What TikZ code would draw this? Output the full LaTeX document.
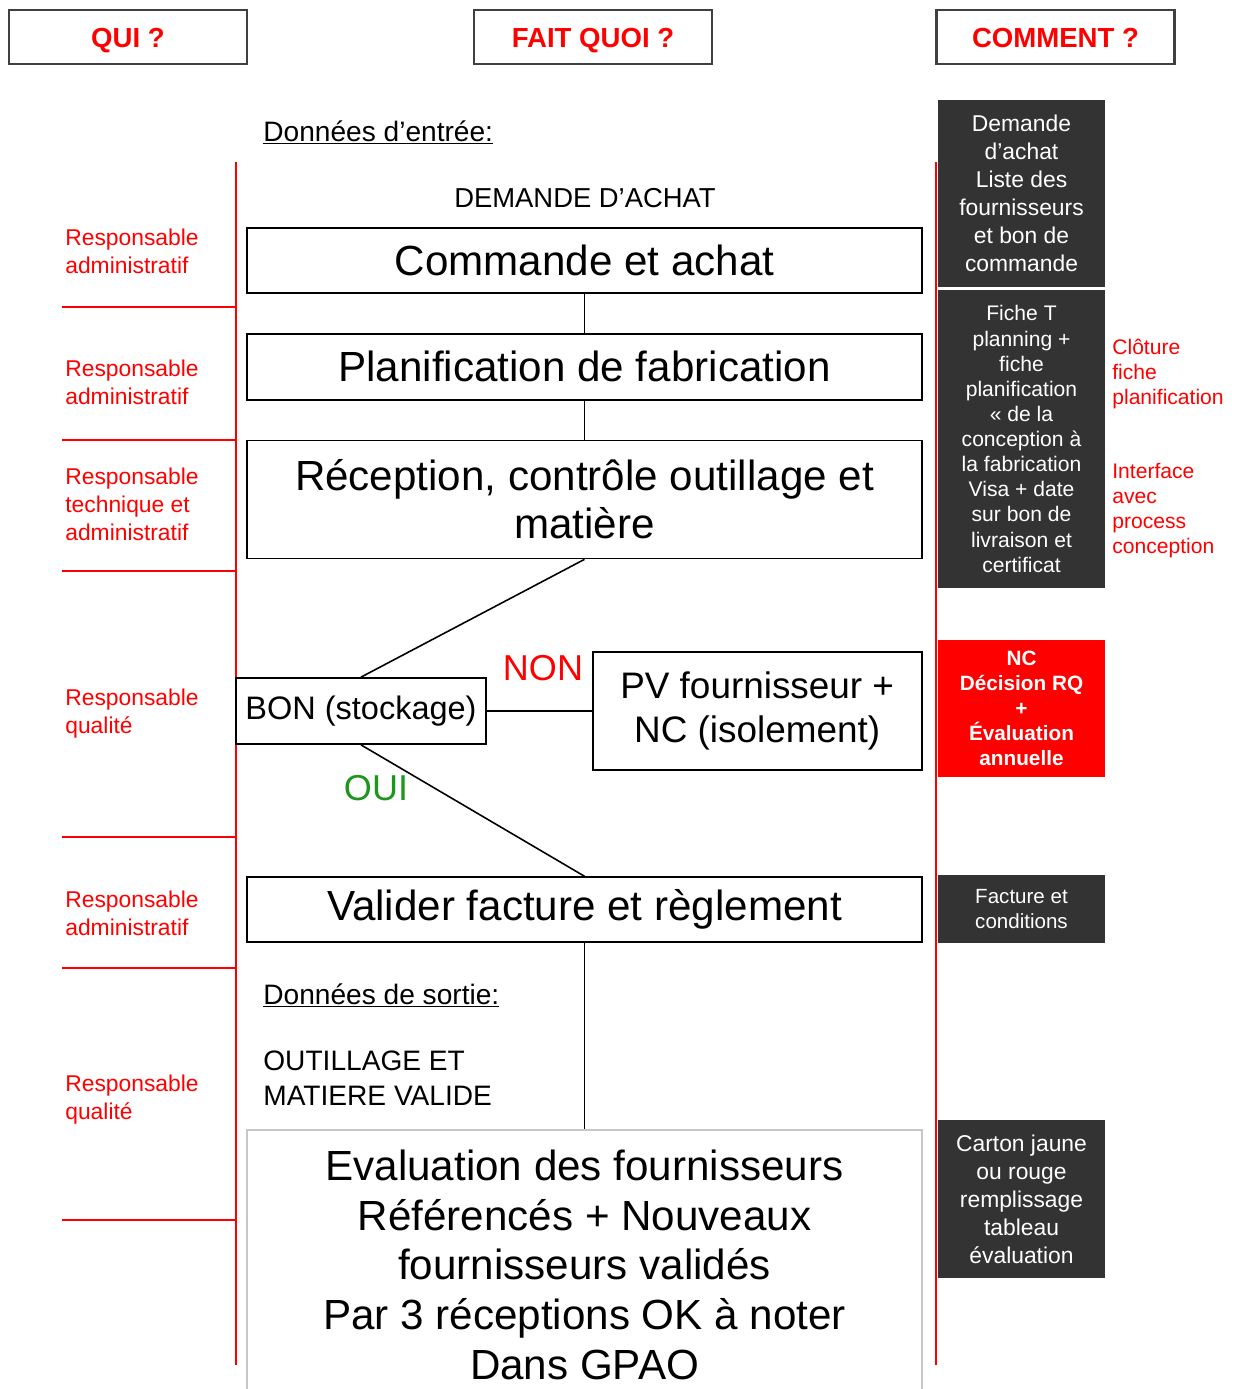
\documentclass[tikz,border=0pt]{standalone}
\usepackage{fontspec}
\setmainfont{Liberation Sans}
\usetikzlibrary{positioning}
\definecolor{howgray}{HTML}{333333}
\definecolor{okgreen}{RGB}{30,150,30}
\tikzset{%
  head/.style={draw=black!75, line width=1.2pt, minimum width=4.76cm, minimum height=1.08cm,
    text height=11.5pt, text depth=0pt, text=red,
    font=\bfseries\fontsize{15.7}{18}\selectfont}, % the three column titles
  proc/.style={draw, line width=1pt, minimum width=13.5cm, minimum height=1.3cm,
    align=center, inner sep=0pt, font=\fontsize{24}{28.3}\selectfont},
  how/.style={fill=howgray, text=white, minimum width=3.34cm, align=center, inner sep=0pt,
    font=\fontsize{13}{15.9}\selectfont},
  who/.style={text=red, align=left, anchor=west, inner sep=0pt, font=\fontsize{13}{15.9}\selectfont},
  note/.style={inner sep=0pt, font=\fontsize{16}{19.8}\selectfont},
  link/.style={draw, line width=0.9pt},
  lane/.style={draw=red, line width=1pt}
}

\begin{document}
\begin{tikzpicture}[x=0.02cm, y=-0.02cm, node distance=0.78cm]
\useasboundingbox (0,0) rectangle (1235,1389);

\node[head] (h0) at (128,37) {QUI ?};
\node[head] (h1) at (593,37) {FAIT QUOI ?};
\node[head] (h2) at (1055.5,37) {COMMENT ?};

% lanes
\draw[lane] (236,162) -- (236,1365);
\draw[lane] (936,162) -- (936,1365);
\foreach \y in {307,440,571,837,968,1220}
  \draw[lane] (62,\y) -- (236,\y);

\node[note, anchor=base west] (in0) at (263,141) {\underline{Données d’entrée:}};
\node[note, font=\fontsize{15.6}{19}\selectfont] (in1) at (585,198) {DEMANDE D’ACHAT};

\node[proc] (p0) at (584.5,260.5) {Commande et achat};
\node[proc, below=of p0, minimum height=1.32cm] (p1) {Planification de fabrication};
\node[proc, below=of p1, minimum height=2.36cm, font=\fontsize{24}{27.2}\selectfont] (p2) {Réception, contrôle outillage et\\matière};
\node[proc, minimum width=5cm, minimum height=1.32cm, font=\fontsize{18.5}{22}\selectfont] (bon) at (361,711) {BON (stockage)};
\node[proc, right=2.1cm of bon, minimum width=6.58cm, minimum height=2.36cm, font=\fontsize{21}{25.5}\selectfont] (pv) {PV fournisseur +\\NC (isolement)};
\node[proc, below=6.34cm of p2] (p3) {Valider facture et règlement};
\node[proc, below=3.72cm of p3, draw=black!22, minimum height=5.4cm] (p4) {Evaluation des fournisseurs\\Référencés + Nouveaux\\fournisseurs validés\\Par 3 réceptions OK à noter\\Dans GPAO};

\node[inner sep=0pt, text=red, font=\fontsize{20.5}{24}\selectfont] (non) at (543,668) {NON};
\node[inner sep=0pt, text=okgreen, font=\fontsize{20.5}{24}\selectfont] (oui) at (376,788) {OUI};

\draw[link] (p0) -- (p1);
\draw[link] (p1) -- (p2);
\draw[link] (p2.south) -- (bon.north);
\draw[link] (bon) -- (pv);
\draw[link] (bon.south) -- (p3.north);
\draw[link] (p3) -- (p4);

\node[note, anchor=base west] (out0) at (263,1004) {\underline{Données de sortie:}};
\node[note, align=left, anchor=west] (out1) at (263,1078) {OUTILLAGE ET\\MATIERE VALIDE};

% qui ?
\node[who] (q0) at (65,251.5) {Responsable\\administratif};
\node[who] (q1) at (65,382) {Responsable\\administratif};
\node[who] (q2) at (65,504) {Responsable\\technique et\\administratif};
\node[who] (q3) at (65,714) {Responsable\\qualité};
\node[who] (q4) at (65,913) {Responsable\\administratif};
\node[who] (q5) at (65,1100) {Responsable\\qualité};

% comment ?
\node[how, minimum height=3.74cm] (c0) at (1021.5,193.5) {Demande\\d’achat\\Liste des\\fournisseurs\\et bon de\\commande};
\node[how, minimum height=5.96cm, font=\fontsize{12}{14.3}\selectfont] (c1) at (1021.5,439) {Fiche T\\planning +\\fiche\\planification\\« de la\\conception à\\la fabrication\\Visa + date\\sur bon de\\livraison et\\certificat};
\node[how, fill=red, minimum height=2.74cm, font=\bfseries\fontsize{11.8}{14.2}\selectfont] (c2) at (1021.5,708.5) {NC\\Décision RQ\\+\\Évaluation\\annuelle};
\node[how, minimum height=1.36cm, font=\fontsize{11.7}{14.7}\selectfont] (c3) at (1021.5,909) {Facture et\\conditions};
\node[how, minimum height=3.16cm] (c4) at (1021.5,1199) {Carton jaune\\ou rouge\\remplissage\\tableau\\évaluation};

\node[who, font=\fontsize{12}{14.2}\selectfont] (r0) at (1112,374) {Clôture\\fiche\\planification};
\node[who, font=\fontsize{12}{14.2}\selectfont] (r1) at (1112,510.5) {Interface\\avec\\process\\conception};

\end{tikzpicture}
\end{document}
